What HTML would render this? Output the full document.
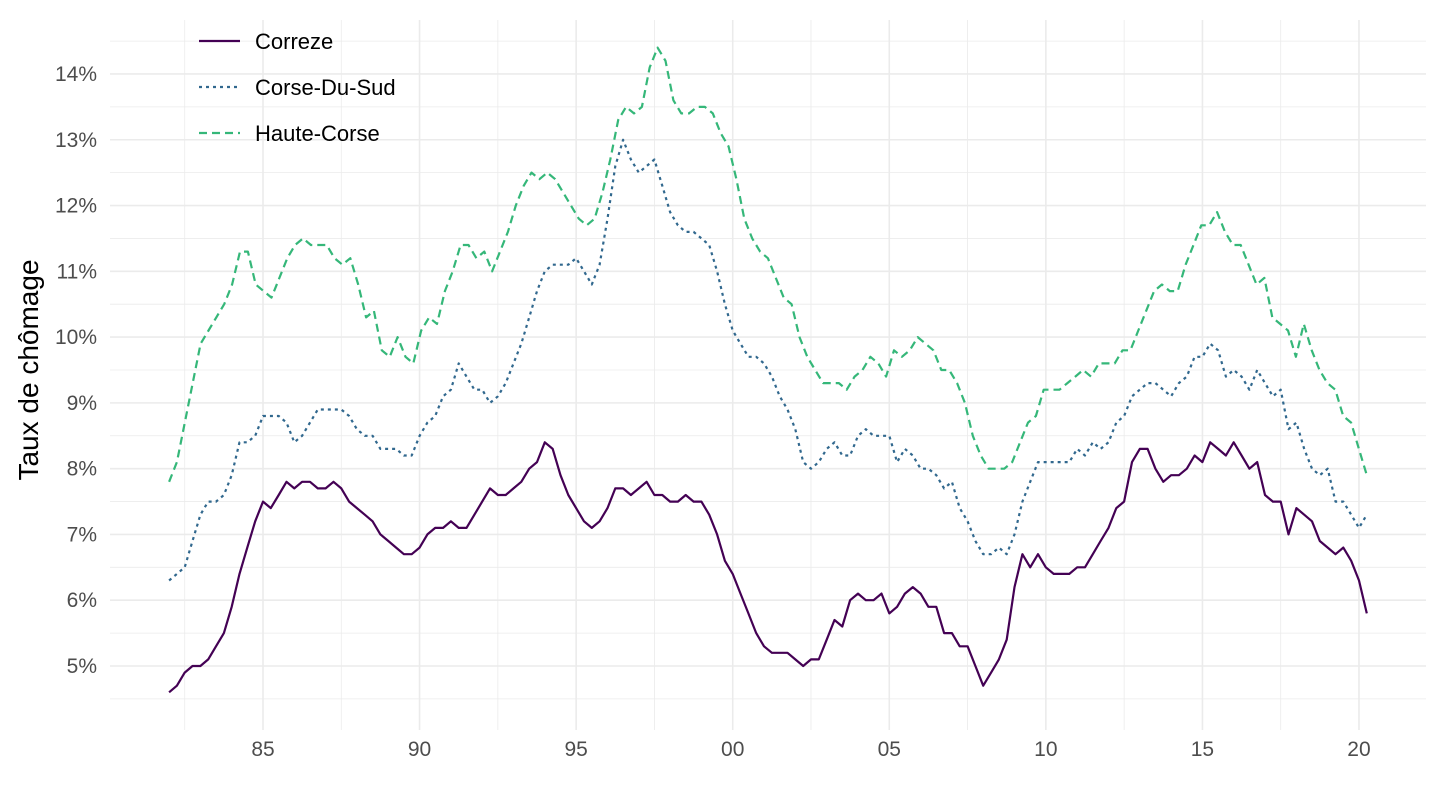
<!DOCTYPE html>
<html><head><meta charset="utf-8"><style>
body{margin:0;background:#fff;}
svg{display:block;font-family:"Liberation Sans",Arial,sans-serif;}
</style></head><body>
<svg id="s" width="1440" height="810" xmlns="http://www.w3.org/2000/svg"></svg>
<script>
const s=document.getElementById('s');
const X=y=>263+(y-1985)*31.314;
const Y=v=>666-(v-5)*65.78;
let h='';
for(let v=4.5;v<=14.5;v+=0.5){const maj=Math.abs(v-Math.round(v))<0.01;h+=`<line x1="110" x2="1426" y1="${Y(v)}" y2="${Y(v)}" stroke="#ebebeb" stroke-width="${maj?1.6:0.8}"/>`;}
for(let yr=1982.5;yr<=2022;yr+=2.5){const maj=(yr%5)===0;h+=`<line x1="${X(yr)}" x2="${X(yr)}" y1="20" y2="730" stroke="#ebebeb" stroke-width="${maj?1.6:0.8}"/>`;}
for(let v=5;v<=14;v++)h+=`<text x="97" y="${Y(v)+7}" text-anchor="end" font-size="21" fill="#4d4d4d">${v}%</text>`;
['85','90','95','00','05','10','15','20'].forEach((l,i)=>h+=`<text x="${X(1985+5*i)}" y="756" text-anchor="middle" font-size="21" fill="#4d4d4d">${l}</text>`);
h+=`<text transform="translate(38,370) rotate(-90)" text-anchor="middle" font-size="28" fill="#000">Taux de chômage</text>`;
const A=[4.6,4.7,4.9,5.0,5.0,5.1,5.3,5.5,5.9,6.4,6.8,7.2,7.5,7.4,7.6,7.8,7.7,7.8,7.8,7.7,7.7,7.8,7.7,7.5,7.4,7.3,7.2,7.0,6.9,6.8,6.7,6.7,6.8,7.0,7.1,7.1,7.2,7.1,7.1,7.3,7.5,7.7,7.6,7.6,7.7,7.8,8.0,8.1,8.4,8.3,7.9,7.6,7.4,7.2,7.1,7.2,7.4,7.7,7.7,7.6,7.7,7.8,7.6,7.6,7.5,7.5,7.6,7.5,7.5,7.3,7.0,6.6,6.4,6.1,5.8,5.5,5.3,5.2,5.2,5.2,5.1,5.0,5.1,5.1,5.4,5.7,5.6,6.0,6.1,6.0,6.0,6.1,5.8,5.9,6.1,6.2,6.1,5.9,5.9,5.5,5.5,5.3,5.3,5.0,4.7,4.9,5.1,5.4,6.2,6.7,6.5,6.7,6.5,6.4,6.4,6.4,6.5,6.5,6.7,6.9,7.1,7.4,7.5,8.1,8.3,8.3,8.0,7.8,7.9,7.9,8.0,8.2,8.1,8.4,8.3,8.2,8.4,8.2,8.0,8.1,7.6,7.5,7.5,7.0,7.4,7.3,7.2,6.9,6.8,6.7,6.8,6.6,6.3,5.8];
const B=[6.3,6.4,6.5,6.9,7.3,7.5,7.5,7.6,7.9,8.4,8.4,8.5,8.8,8.8,8.8,8.7,8.4,8.5,8.7,8.9,8.9,8.9,8.9,8.8,8.6,8.5,8.5,8.3,8.3,8.3,8.2,8.2,8.5,8.7,8.8,9.1,9.2,9.6,9.4,9.2,9.2,9.0,9.1,9.3,9.6,9.9,10.3,10.7,11.0,11.1,11.1,11.1,11.2,11.0,10.8,11.1,11.8,12.6,13.0,12.7,12.5,12.6,12.7,12.3,11.9,11.7,11.6,11.6,11.5,11.4,11.0,10.5,10.1,9.9,9.7,9.7,9.6,9.4,9.1,8.9,8.6,8.1,8.0,8.1,8.3,8.4,8.2,8.2,8.5,8.6,8.5,8.5,8.5,8.1,8.3,8.2,8.0,8.0,7.9,7.7,7.8,7.4,7.2,6.9,6.7,6.7,6.8,6.7,7.0,7.5,7.8,8.1,8.1,8.1,8.1,8.1,8.3,8.2,8.4,8.3,8.4,8.7,8.8,9.1,9.2,9.3,9.3,9.2,9.1,9.3,9.4,9.7,9.7,9.9,9.8,9.4,9.5,9.4,9.2,9.5,9.3,9.1,9.2,8.6,8.7,8.3,8.0,7.9,8.0,7.5,7.5,7.3,7.1,7.3];
const C=[7.8,8.1,8.7,9.3,9.9,10.1,10.3,10.5,10.8,11.3,11.3,10.8,10.7,10.6,10.9,11.2,11.4,11.5,11.4,11.4,11.4,11.2,11.1,11.2,10.8,10.3,10.4,9.8,9.7,10.0,9.7,9.6,10.1,10.3,10.2,10.7,11.0,11.4,11.4,11.2,11.3,11.0,11.3,11.6,12.0,12.3,12.5,12.4,12.5,12.4,12.2,12.0,11.8,11.7,11.8,12.2,12.7,13.3,13.5,13.4,13.5,14.1,14.4,14.2,13.6,13.4,13.4,13.5,13.5,13.4,13.1,12.9,12.4,11.8,11.5,11.3,11.2,10.9,10.6,10.5,10.0,9.7,9.5,9.3,9.3,9.3,9.2,9.4,9.5,9.7,9.6,9.4,9.8,9.7,9.8,10.0,9.9,9.8,9.5,9.5,9.3,9.0,8.5,8.2,8.0,8.0,8.0,8.1,8.4,8.7,8.8,9.2,9.2,9.2,9.3,9.4,9.5,9.4,9.6,9.6,9.6,9.8,9.8,10.1,10.4,10.7,10.8,10.7,10.7,11.1,11.4,11.7,11.7,11.9,11.6,11.4,11.4,11.1,10.8,10.9,10.3,10.2,10.1,9.7,10.2,9.8,9.5,9.3,9.2,8.8,8.7,8.3,7.9];
function line(d,col,dash){const n=d.length;const x0=X(1982),x1=X(2020.25);let p=d.map((v,i)=>`${(x0+(x1-x0)*i/(n-1)).toFixed(1)},${Y(v).toFixed(1)}`).join(' ');return `<polyline points="${p}" fill="none" stroke="${col}" stroke-width="2.2" ${dash?`stroke-dasharray="${dash}"`:''} stroke-linejoin="round"/>`;}
h+=line(C,'#35b779','8,5');
h+=line(B,'#31688e','3,4');
h+=line(A,'#440154','');
const L=[['Correze','#440154',''],['Corse-Du-Sud','#31688e','3,4'],['Haute-Corse','#35b779','8,5']];
L.forEach((l,i)=>{const y=41+i*46;h+=`<line x1="199" x2="240" y1="${y}" y2="${y}" stroke="${l[1]}" stroke-width="2.2" ${l[2]?`stroke-dasharray="${l[2]}"`:''}/><text x="255" y="${y+8}" font-size="22" fill="#000">${l[0]}</text>`;});
s.innerHTML=h;
</script>
</body></html>
